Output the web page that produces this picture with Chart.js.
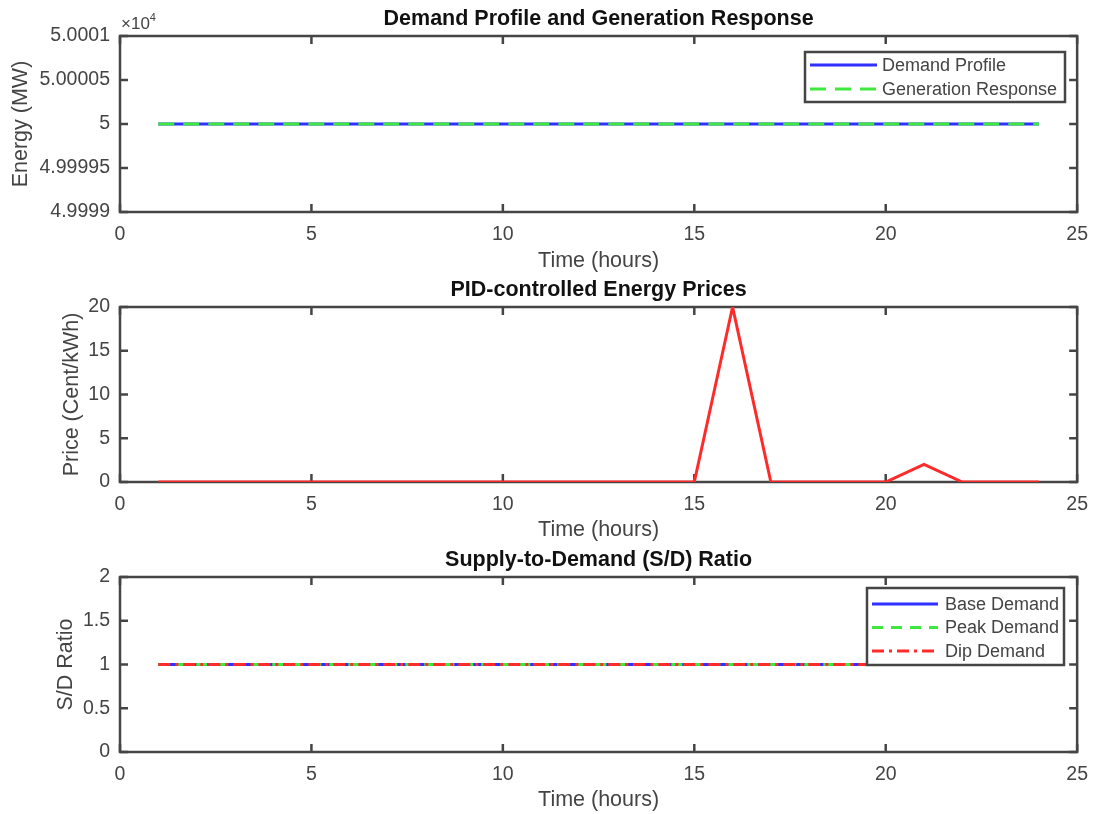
<!DOCTYPE html>
<html>
<head>
<meta charset="utf-8">
<title>Demand, Price and S/D Ratio</title>
<script src="https://cdn.jsdelivr.net/npm/chart.js@4.4.1/dist/chart.umd.min.js"></script>
<style>
    body { margin: 0; background: #fff; width: 1099px; height: 814px; overflow: hidden; position: relative; }
    canvas { position: absolute; left: 0; }
</style>
</head>
<body>
<canvas id="demandChart" width="1099" height="276" style="top:0px"></canvas>
<canvas id="priceChart" width="1099" height="274" style="top:272px"></canvas>
<canvas id="ratioChart" width="1099" height="272" style="top:542px"></canvas>
<script>
/* --- Data --- */
const hours = [1, 2, 3, 4, 5, 6, 7, 8, 9, 10, 11, 12, 13, 14, 15, 16, 17, 18, 19, 20, 21, 22, 23, 24];

const demandProfile = [50000, 50000, 50000, 50000, 50000, 50000, 50000, 50000, 50000, 50000, 50000, 50000,
                       50000, 50000, 50000, 50000, 50000, 50000, 50000, 50000, 50000, 50000, 50000, 50000];
const generationResponse = [50000, 50000, 50000, 50000, 50000, 50000, 50000, 50000, 50000, 50000, 50000, 50000,
                            50000, 50000, 50000, 50000, 50000, 50000, 50000, 50000, 50000, 50000, 50000, 50000];

// Cent/kWh
const energyPrice = [0, 0, 0, 0, 0, 0, 0, 0, 0, 0, 0, 0, 0, 0, 0, 20, 0, 0, 0, 0, 2, 0, 0, 0];

const baseDemandRatio = [1, 1, 1, 1, 1, 1, 1, 1, 1, 1, 1, 1, 1, 1, 1, 1, 1, 1, 1, 1, 1, 1, 1, 1];
const peakDemandRatio = [1, 1, 1, 1, 1, 1, 1, 1, 1, 1, 1, 1, 1, 1, 1, 1, 1, 1, 1, 1, 1, 1, 1, 1];
const dipDemandRatio  = [1, 1, 1, 1, 1, 1, 1, 1, 1, 1, 1, 1, 1, 1, 1, 1, 1, 1, 1, 1, 1, 1, 1, 1];

const xTicks = [0, 5, 10, 15, 20, 25];
const energyTicks = [49999, 49999.5, 50000, 50000.5, 50001];
const priceTicks = [0, 5, 10, 15, 20];
const ratioTicks = [0, 0.5, 1, 1.5, 2];

/* --- Styling --- */
const AXIS_COLOR = '#454545';
const TEXT_COLOR = '#444';
const BLUE = '#2f2fff';
const GREEN = '#3ee83e';
const RED = '#ff2b2b';
const FONT = "'Liberation Sans', Arial, sans-serif";

Chart.defaults.font.family = FONT;
Chart.defaults.color = TEXT_COLOR;

function toPoints(values) {
    return hours.map((h, i) => ({ x: h, y: values[i] }));
}

// MATLAB-like box with inward ticks on all four sides
const matlabAxes = {
    id: 'matlabAxes',
    beforeDatasetsDraw(chart) {
        const { ctx, chartArea: a, scales: { x, y } } = chart;
        ctx.save();
        ctx.strokeStyle = AXIS_COLOR;
        ctx.lineWidth = 2.5;
        ctx.beginPath();
        x.ticks.forEach(t => {
            const px = x.getPixelForValue(t.value);
            ctx.moveTo(px, a.bottom); ctx.lineTo(px, a.bottom - 8);
            ctx.moveTo(px, a.top); ctx.lineTo(px, a.top + 8);
        });
        y.ticks.forEach(t => {
            const py = y.getPixelForValue(t.value);
            ctx.moveTo(a.left, py); ctx.lineTo(a.left + 8, py);
            ctx.moveTo(a.right, py); ctx.lineTo(a.right - 8, py);
        });
        ctx.stroke();
        ctx.strokeRect(a.left, a.top, a.right - a.left, a.bottom - a.top);
        ctx.restore();
    },
    afterDraw(chart, args, opts) {
        if (!opts.exponent) return;
        const { ctx, chartArea: a } = chart;
        ctx.save();
        ctx.fillStyle = TEXT_COLOR;
        ctx.textBaseline = 'alphabetic';
        ctx.font = '17px ' + FONT;
        ctx.fillText('\u00d710', a.left + 1, a.top - 7);
        const w = ctx.measureText('\u00d710').width;
        ctx.font = '11px ' + FONT;
        ctx.fillText(opts.exponent, a.left + 1 + w, a.top - 15);
        ctx.restore();
    }
};

// Boxed legend inside the axes (top-right corner)
const boxLegend = {
    id: 'boxLegend',
    afterDatasetsDraw(chart, args, opts) {
        const { ctx } = chart;
        const sets = chart.data.datasets;
        ctx.save();
        ctx.fillStyle = '#fff';
        ctx.fillRect(opts.left, opts.top, opts.width, opts.height);
        ctx.strokeStyle = AXIS_COLOR;
        ctx.lineWidth = 2.5;
        ctx.strokeRect(opts.left, opts.top, opts.width, opts.height);
        ctx.font = '18px ' + FONT;
        ctx.textBaseline = 'middle';
        sets.forEach((ds, i) => {
            const yy = opts.top + opts.firstRow + i * opts.rowGap;
            ctx.strokeStyle = ds.borderColor;
            ctx.lineWidth = ds.borderWidth;
            ctx.setLineDash(ds.borderDash || []);
            ctx.beginPath();
            ctx.moveTo(opts.left + 5, yy);
            ctx.lineTo(opts.left + opts.sample, yy);
            ctx.stroke();
            ctx.setLineDash([]);
            ctx.fillStyle = TEXT_COLOR;
            ctx.fillText(ds.label, opts.left + opts.textX, yy + 1);
        });
        ctx.restore();
    }
};

function makeChart(id, cfg) {
    const canvas = document.getElementById(id);
    const H = canvas.height;
    const areaTop = cfg.areaTop;      // relative to canvas
    const areaBottom = cfg.areaBottom;
    return new Chart(canvas, {
        type: 'line',
        data: { datasets: cfg.datasets },
        plugins: [matlabAxes, boxLegend],
        options: {
            responsive: false,
            animation: false,
            layout: { padding: { left: 0, right: 21, top: 0, bottom: 0 } },
            plugins: {
                legend: { display: false },
                tooltip: { enabled: false },
                title: {
                    display: true,
                    fullSize: false,
                    text: cfg.title,
                    color: '#111',
                    font: { size: 21.5, weight: 'bold' },
                    padding: { top: areaTop - 17 - 12.9, bottom: 4.1 }
                },
                matlabAxes: { exponent: cfg.exponent || null },
                boxLegend: cfg.legend
            },
            elements: { point: { radius: 0 }, line: { tension: 0, borderWidth: 3 } },
            scales: {
                x: {
                    type: 'linear',
                    min: 0, max: 25,
                    afterBuildTicks: s => { s.ticks = xTicks.map(v => ({ value: v })); },
                    afterFit: s => { s.height = H - areaBottom; },
                    grid: { display: false, drawTicks: false },
                    border: { display: false },
                    ticks: { padding: 11, font: { size: 19.5 }, callback: v => String(v) },
                    title: {
                        display: true,
                        text: 'Time (hours)',
                        font: { size: 21.5 },
                        padding: { top: 0, bottom: cfg.xTitleBottom }
                    }
                },
                y: {
                    min: cfg.yMin, max: cfg.yMax,
                    afterBuildTicks: s => { s.ticks = cfg.yTicks.map(v => ({ value: v })); },
                    afterFit: s => { s.width = 120; },
                    grid: { display: false, drawTicks: false },
                    border: { display: false },
                    ticks: { padding: 10, font: { size: 19.5 }, callback: cfg.yFormat },
                    title: {
                        display: true,
                        text: cfg.yTitle,
                        font: { size: 21.5 },
                        padding: { top: cfg.yTitlePad, bottom: 0 }
                    }
                }
            }
        }
    });
}

/* --- Demand Profile and Generation Response --- */
makeChart('demandChart', {
    title: 'Demand Profile and Generation Response',
    areaTop: 36, areaBottom: 212,
    xTitleBottom: 2.1,
    yMin: 49999, yMax: 50001, yTicks: energyTicks,
    yFormat: v => String(+(v / 1e4).toFixed(5)),
    yTitle: 'Energy (MW)', yTitlePad: 8.6,
    exponent: '4',
    legend: { left: 805, top: 52, width: 260, height: 50, firstRow: 13, rowGap: 24, sample: 72, textX: 77 },
    datasets: [
        { label: 'Demand Profile', data: toPoints(demandProfile), borderColor: BLUE, borderWidth: 3, order: 1 },
        { label: 'Generation Response', data: toPoints(generationResponse), borderColor: GREEN, borderWidth: 3,
          borderDash: [16, 9], order: 0 }
    ]
});

/* --- PID-controlled Energy Prices --- */
makeChart('priceChart', {
    title: 'PID-controlled Energy Prices',
    areaTop: 35, areaBottom: 210,
    xTitleBottom: 3.1,
    yMin: 0, yMax: 20, yTicks: priceTicks,
    yFormat: v => String(v),
    yTitle: 'Price (Cent/kWh)', yTitlePad: 59.6,
    legend: null,
    datasets: [
        { label: 'Price', data: toPoints(energyPrice), borderColor: RED, borderWidth: 3 }
    ]
});

/* --- Supply-to-Demand (S/D) Ratio --- */
makeChart('ratioChart', {
    title: 'Supply-to-Demand (S/D) Ratio',
    areaTop: 35, areaBottom: 210,
    xTitleBottom: 1.1,
    yMin: 0, yMax: 2, yTicks: ratioTicks,
    yFormat: v => String(v),
    yTitle: 'S/D Ratio', yTitlePad: 53.1,
    legend: { left: 867, top: 46, width: 197, height: 77, firstRow: 16, rowGap: 23.5, sample: 71, textX: 78 },
    datasets: [
        { label: 'Base Demand', data: toPoints(baseDemandRatio), borderColor: BLUE, borderWidth: 3, order: 2 },
        { label: 'Peak Demand', data: toPoints(peakDemandRatio), borderColor: GREEN, borderWidth: 3,
          borderDash: [11, 8], order: 1 },
        { label: 'Dip Demand', data: toPoints(dipDemandRatio), borderColor: RED, borderWidth: 3,
          borderDash: [12, 5, 3, 5], order: 0 }
    ]
});
</script>
</body>
</html>
